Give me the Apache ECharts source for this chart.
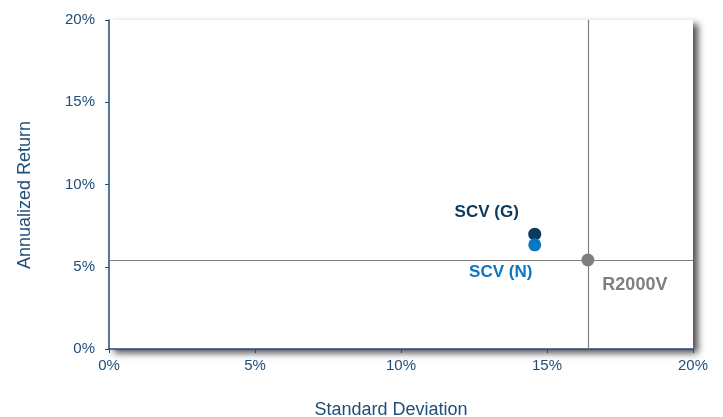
<!DOCTYPE html>
<html>
<head>
<meta charset="utf-8">
<script src="https://cdn.jsdelivr.net/npm/echarts@6/dist/echarts.min.js"></script>
<style>
    html, body { margin: 0; padding: 0; background: #fff; }
    #chart { width: 723px; height: 417px; }
</style>
</head>
<body>
<div id="chart"></div>
<script>
    'use strict'

    /*-----data-----*/
    var fundNames = ['SCV (G)', 'SCV (N)', 'R2000V'];
    var stdDev = [14.58, 14.58, 16.40];
    var annReturn = [6.98, 6.33, 5.41];
    var xTicks = [0, 5, 10, 15, 20];
    var yTicks = [0, 5, 10, 15, 20];

    var dotColors = ['#0b3a5e', '#0a77c2', '#7f7f7f'];
    var labelOffsets = [[-48, -22], [-34, 27], [47, 25]];
    var labelSizes = [17, 17, 18];
    var axisColor = '#1f4e79';

    var series = fundNames.map(function (name, i) {
        var s = {
            name: name,
            type: 'scatter',
            symbolSize: 13,
            data: [[stdDev[i], annReturn[i]]],
            itemStyle: { color: dotColors[i], opacity: 1 },
            label: {
                show: true,
                position: 'inside',
                offset: labelOffsets[i],
                formatter: name,
                color: dotColors[i],
                fontWeight: 'bold',
                fontSize: labelSizes[i],
                fontFamily: 'Liberation Sans'
            },
            z: 5
        };
        if (name === 'R2000V') {
            s.markLine = {
                silent: true,
                symbol: 'none',
                label: { show: false },
                lineStyle: { color: '#808080', width: 1.2, type: 'solid' },
                data: [{ xAxis: stdDev[i] }, { yAxis: annReturn[i] }],
                z: 1
            };
        }
        return s;
    });

    var chart = document.getElementById('chart');
    var scatterChart = echarts.init(chart);
    var option = {
        animation: false,
        textStyle: { fontFamily: 'Liberation Sans' },
        grid: {
            show: true,
            left: 109,
            top: 20,
            right: 30,
            bottom: 68,
            backgroundColor: '#fff',
            borderWidth: 0,
            shadowColor: 'rgba(0, 0, 0, 0.7)',
            shadowBlur: 7,
            shadowOffsetX: 5,
            shadowOffsetY: 4
        },
        xAxis: {
            type: 'value',
            min: xTicks[0],
            max: xTicks[xTicks.length - 1],
            interval: xTicks[1] - xTicks[0],
            axisLine: { show: true, lineStyle: { color: axisColor, width: 1.5 } },
            axisTick: { show: true, length: 4, lineStyle: { color: axisColor } },
            splitLine: { show: false },
            axisLabel: {
                formatter: '{value}%',
                fontSize: 15,
                margin: 9,
                color: axisColor
            }
        },
        yAxis: {
            type: 'value',
            min: yTicks[0],
            max: yTicks[yTicks.length - 1],
            interval: yTicks[1] - yTicks[0],
            axisLine: { show: true, lineStyle: { color: axisColor, width: 1.5 } },
            axisTick: { show: true, length: 4, lineStyle: { color: axisColor } },
            splitLine: { show: false },
            axisLabel: {
                formatter: '{value}%',
                fontSize: 15,
                margin: 14,
                color: axisColor
            }
        },
        graphic: [{
            type: 'text',
            x: 25,
            y: 195,
            rotation: Math.PI / 2,
            style: {
                text: 'Annualized Return',
                fill: axisColor,
                font: '18px "Liberation Sans"',
                align: 'center',
                verticalAlign: 'middle'
            }
        }, {
            type: 'text',
            x: 391,
            y: 410,
            style: {
                text: 'Standard Deviation',
                fill: axisColor,
                font: '18px "Liberation Sans"',
                align: 'center',
                verticalAlign: 'middle'
            }
        }],
        series: series
    };
    scatterChart.setOption(option);
    window.addEventListener('resize', function () {
        scatterChart.resize();
    })
</script>
</body>
</html>
